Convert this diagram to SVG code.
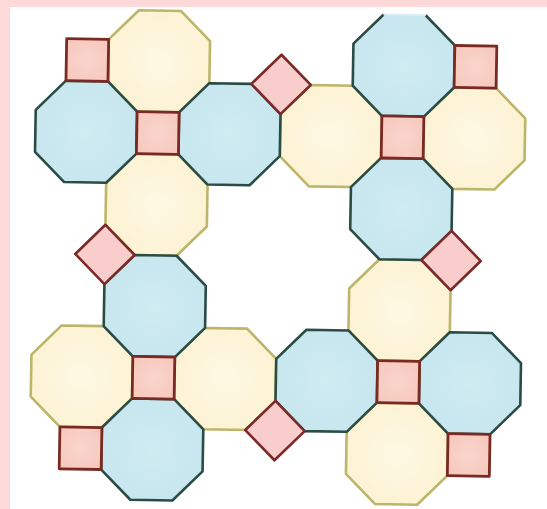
<svg xmlns="http://www.w3.org/2000/svg" width="547" height="509" viewBox="0 0 547 509">
  <defs>
    <polygon id="oct" points="-21,-50.7 21,-50.7 50.7,-21 50.7,21 21,50.7 -21,50.7 -50.7,21 -50.7,-21"/>
    <rect id="sq" x="-21" y="-21" width="42" height="42"/>
    <radialGradient id="gy" cx="50%" cy="50%" r="70%">
      <stop offset="0" stop-color="#fef8e4"/>
      <stop offset="1" stop-color="#fcf1cf"/>
    </radialGradient>
    <radialGradient id="gc" cx="50%" cy="50%" r="70%">
      <stop offset="0" stop-color="#d0ebf2"/>
      <stop offset="1" stop-color="#c4e5ee"/>
    </radialGradient>
    <radialGradient id="gs" cx="50%" cy="50%" r="70%">
      <stop offset="0" stop-color="#fad5cd"/>
      <stop offset="1" stop-color="#f6c7bb"/>
    </radialGradient>
    <style>
      .y { fill: url(#gy); stroke: #bdb56a; stroke-width: 2.6; stroke-linejoin: round; }
      .c { fill: url(#gc); stroke: #2b4b45; stroke-width: 2.6; stroke-linejoin: round; }
      .s { fill: url(#gs); stroke: #7a2a22; stroke-width: 2.8; stroke-linejoin: round; }
      .d { fill: #f8cdcb; stroke: #7a2a28; stroke-width: 2.6; stroke-linejoin: round; }
    </style>
  </defs>
  <rect x="0" y="0" width="547" height="509" fill="#fdd9d9"/>
  <rect x="10" y="7" width="537" height="502" fill="#ffffff"/>
  <g transform="translate(278,257.5) rotate(1)">
    <g id="yellow-octagons">
      <use id="tl-top" href="#oct" class="y" x="-122.4" y="-194.1"/>
      <use id="tl-bottom" href="#oct" class="y" x="-122.4" y="-50.7"/>
      <use id="tr-left" href="#oct" class="y" x="50.7" y="-122.4"/>
      <use id="tr-right" href="#oct" class="y" x="194.1" y="-122.4"/>
      <use id="bl-left" href="#oct" class="y" x="-194.1" y="122.4"/>
      <use id="bl-right" href="#oct" class="y" x="-50.7" y="122.4"/>
      <use id="br-top" href="#oct" class="y" x="122.4" y="50.7"/>
      <use id="br-bottom" href="#oct" class="y" x="122.4" y="194.1"/>
    </g>
    <g id="cyan-octagons">
      <use id="tl-left" href="#oct" class="c" x="-194.1" y="-122.4"/>
      <use id="tl-right" href="#oct" class="c" x="-50.7" y="-122.4"/>
      <g id="tr-top">
        <use href="#oct" x="122.4" y="-194.1" fill="url(#gc)"/>
        <polyline points="143.4,-244.8 173.1,-215.1 173.1,-173.1 143.4,-143.4 101.4,-143.4 71.7,-173.1 71.7,-215.1 101.4,-244.8" fill="none" stroke="#2b4b45" stroke-width="2.6" stroke-linejoin="round"/>
        <line x1="101.4" y1="-244.8" x2="143.4" y2="-244.8" stroke="#d8eef3" stroke-width="2"/>
      </g>
      <use id="tr-bottom" href="#oct" class="c" x="122.4" y="-50.7"/>
      <use id="bl-top" href="#oct" class="c" x="-122.4" y="50.7"/>
      <use id="bl-bottom" href="#oct" class="c" x="-122.4" y="194.1"/>
      <use id="br-left" href="#oct" class="c" x="50.7" y="122.4"/>
      <use id="br-right" href="#oct" class="c" x="194.1" y="122.4"/>
    </g>
    <g id="squares">
      <use id="tl-center" href="#sq" class="s" x="-122.4" y="-122.4"/>
      <use id="tr-center" href="#sq" class="s" x="122.4" y="-122.4"/>
      <use id="bl-center" href="#sq" class="s" x="-122.4" y="122.4"/>
      <use id="br-center" href="#sq" class="s" x="122.4" y="122.4"/>
      <use id="tl-corner" href="#sq" class="s" x="-194.1" y="-194.1"/>
      <use id="tr-corner" href="#sq" class="s" x="194.1" y="-194.1"/>
      <use id="bl-corner" href="#sq" class="s" x="-194.1" y="194.1"/>
      <use id="br-corner" href="#sq" class="s" x="194.1" y="194.1"/>
    </g>
    <g id="diamonds">
      <polygon id="d-top" class="d" points="0,-202.8 29.7,-173.1 0,-143.4 -29.7,-173.1"/>
      <polygon id="d-bottom" class="d" points="0,143.4 29.7,173.1 0,202.8 -29.7,173.1"/>
      <polygon id="d-left" class="d" points="-173.1,-29.7 -143.4,0 -173.1,29.7 -202.8,0"/>
      <polygon id="d-right" class="d" points="173.1,-29.7 202.8,0 173.1,29.7 143.4,0"/>
    </g>
  </g>
</svg>
